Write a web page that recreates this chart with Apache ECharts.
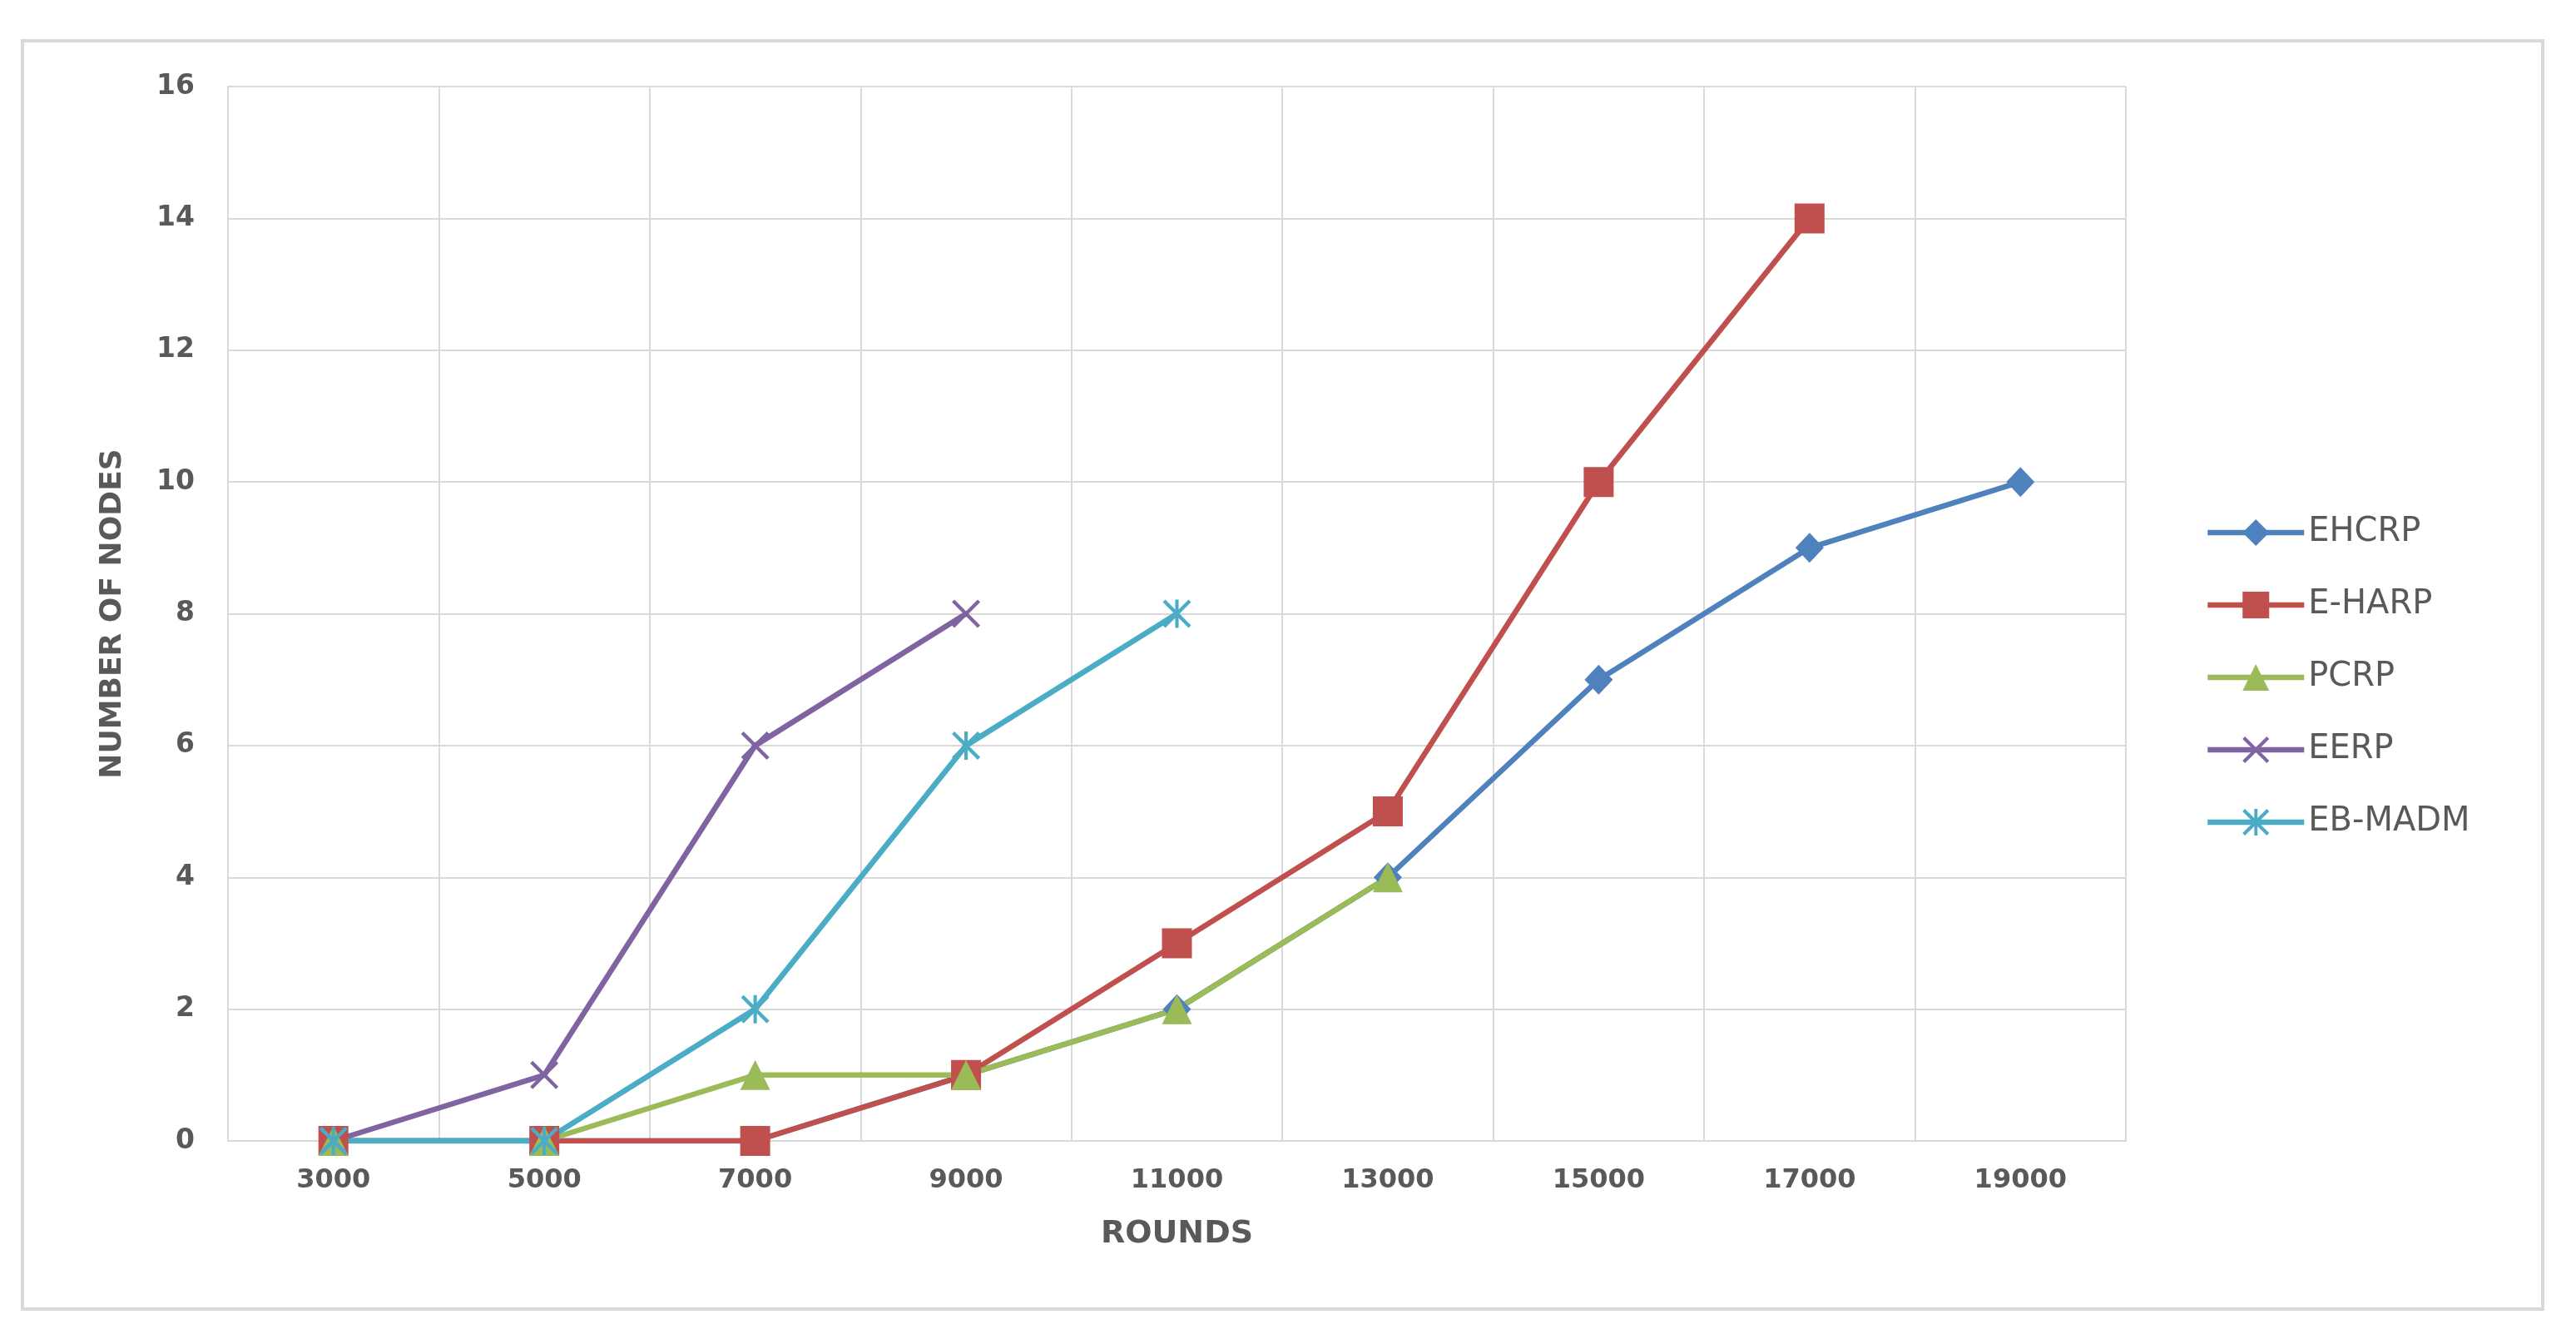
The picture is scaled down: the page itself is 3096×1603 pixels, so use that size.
<!DOCTYPE html>
<html>
<head>
<meta charset="utf-8">
<script src="https://cdn.jsdelivr.net/npm/echarts@6/dist/echarts.min.js"></script>
<style>
  html, body { margin: 0; padding: 0; background: #fff; }
  #chart { width: 3096px; height: 1603px; }
</style>
</head>
<body>
<div id="chart"></div>
<script>
// rounds on the x axis
var rounds = ['3000', '5000', '7000', '9000', '11000', '13000', '15000', '17000', '19000']
var yTicks = [0, 2, 4, 6, 8, 10, 12, 14, 16]

// number of nodes per protocol
var ehcrp = [0, 0, 0, 1, 2, 4, 7, 9, 10]
var eharp = [0, 0, 0, 1, 3, 5, 10, 14]
var pcrp = [0, 0, 1, 1, 2, 4]
var eerp = [0, 1, 6, 8]
var ebMadm = [0, 0, 2, 6, 8]

var textColor = '#595959'
var gridColor = '#d9d9d9'

// x marker and asterisk marker (filled outlines)
var xPath = 'path://M0,0.9 L0.9,0 L5,4.1 L9.1,0 L10,0.9 L5.9,5 L10,9.1 L9.1,10 L5,5.9 L0.9,10 L0,9.1 L4.1,5 Z'
var starPath = xPath + ' M4.4,0 L5.6,0 L5.6,10 L4.4,10 Z'

function makeSeries(name, data, color, symbol, size) {
  return {
    name: name,
    type: 'line',
    data: data,
    symbol: symbol,
    symbolSize: size,
    symbolKeepAspect: true,
    showAllSymbol: true,
    lineStyle: { color: color, width: 6.5 },
    itemStyle: { color: color },
    emphasis: { disabled: true },
    animation: false
  }
}

var chart = echarts.init(document.getElementById('chart'))
chart.setOption({
  backgroundColor: '#fff',
  animation: false,
  graphic: [{
    type: 'rect',
    shape: { x: 27, y: 49, width: 3029, height: 1524 },
    style: { fill: 'none', stroke: gridColor, lineWidth: 4 },
    silent: true,
    z: -1
  }],
  grid: {
    left: 274,
    right: 541,
    top: 104,
    bottom: 232
  },
  legend: {
    orient: 'vertical',
    left: 2645,
    top: 615,
    itemWidth: 116,
    itemHeight: 40,
    itemGap: 47,
    lineStyle: { width: 6.5 },
    textStyle: {
      color: textColor,
      fontFamily: 'DejaVu Sans',
      fontSize: 40,
      lineHeight: 40
    },
    data: ['EHCRP', 'E-HARP', 'PCRP', 'EERP', 'EB-MADM']
  },
  xAxis: {
    type: 'category',
    data: rounds,
    boundaryGap: true,
    name: 'ROUNDS',
    nameLocation: 'middle',
    nameGap: 93,
    nameTextStyle: {
      color: textColor,
      fontFamily: 'DejaVu Sans',
      fontWeight: 'bold',
      fontSize: 38
    },
    axisLine: { lineStyle: { color: gridColor, width: 2 } },
    axisTick: { show: false },
    axisLabel: {
      color: textColor,
      fontFamily: 'DejaVu Sans',
      fontWeight: 'bold',
      fontSize: 32,
      margin: 32
    },
    splitLine: { show: true, lineStyle: { color: gridColor, width: 2 } }
  },
  yAxis: {
    type: 'value',
    min: yTicks[0],
    max: yTicks[yTicks.length - 1],
    interval: 2,
    name: 'NUMBER OF NODES',
    nameLocation: 'middle',
    nameGap: 120,
    nameTextStyle: {
      color: textColor,
      fontFamily: 'DejaVu Sans',
      fontWeight: 'bold',
      fontSize: 36
    },
    axisLine: { show: true, lineStyle: { color: gridColor, width: 2 } },
    axisTick: { show: false },
    axisLabel: {
      color: textColor,
      fontFamily: 'DejaVu Sans',
      fontWeight: 'bold',
      fontSize: 33,
      margin: 40
    },
    splitLine: { show: true, lineStyle: { color: gridColor, width: 2 } }
  },
  series: [
    makeSeries('EHCRP', ehcrp, '#4F81BD', 'diamond', [34, 36]),
    makeSeries('E-HARP', eharp, '#C0504D', 'rect', 36),
    makeSeries('PCRP', pcrp, '#9BBB59', 'triangle', 36),
    makeSeries('EERP', eerp, '#8064A2', xPath, 34),
    makeSeries('EB-MADM', ebMadm, '#4BACC6', starPath, 34)
  ]
})
</script>
</body>
</html>
